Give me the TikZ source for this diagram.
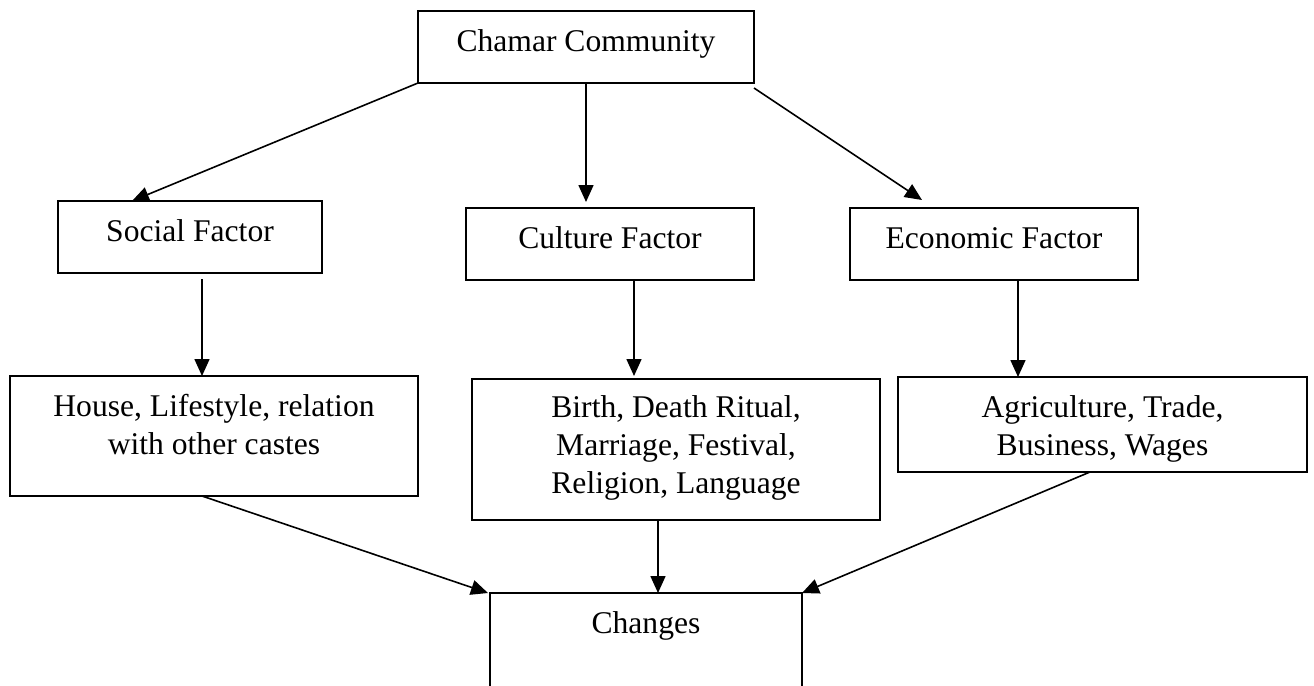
\documentclass[tikz,border=0pt]{standalone}
\usepackage{fontspec}
\setmainfont{Liberation Serif}
\usetikzlibrary{arrows.meta,calc}
\tikzset{
  boxst/.style={draw=black, line width=0.9pt, inner sep=0pt, outer sep=0pt, anchor=north west},
  txtst/.style={anchor=north, inner sep=0pt, align=center, font=\fontsize{15.8pt}{19pt}\selectfont},
  arr/.style={line width=0.8pt, -{Triangle[length=8.5pt,width=7.5pt]}}
}
\newcommand{\fs}{\rule{0pt}{20pt}}
\begin{document}
\begin{tikzpicture}[x=0.5pt,y=-0.5pt]
\useasboundingbox (0,0) rectangle (1314,686);
\clip (0,0) rectangle (1314,686);
% boxes
\node[boxst, minimum width=168pt, minimum height=36pt] (cc) at (418,11) {};
\node[boxst, minimum width=132pt, minimum height=36pt] (sf) at (58,201) {};
\node[boxst, minimum width=144pt, minimum height=36pt] (cf) at (466,208) {};
\node[boxst, minimum width=144pt, minimum height=36pt] (ef) at (850,208) {};
\node[boxst, minimum width=204pt, minimum height=60pt] (hl) at (10,376) {};
\node[boxst, minimum width=204pt, minimum height=70.5pt] (br) at (472,379) {};
\node[boxst, minimum width=204.5pt, minimum height=47.5pt] (ag) at (898,377) {};
\node[boxst, minimum width=156pt, minimum height=70pt] (ch) at (490,593) {};
% texts
\node[txtst] (cct) at (cc.north) {\fs Chamar Community};
\node[txtst] (sft) at (sf.north) {\fs Social Factor};
\node[txtst] (cft) at (cf.north) {\fs Culture Factor};
\node[txtst] (eft) at (ef.north) {\fs Economic Factor};
\node[txtst] (hlt) at (hl.north) {\fs House, Lifestyle, relation\\with other castes};
\node[txtst] (brt) at (br.north) {\rule{0pt}{19pt}Birth, Death Ritual,\\Marriage, Festival,\\Religion, Language};
\node[txtst] (agt) at (ag.north) {\fs Agriculture, Trade,\\Business, Wages};
\node[txtst] (cht) at (ch.north) {\fs Changes};
% connector end points
\coordinate (s1) at ($(sf.south)+(12,6)$);
\coordinate (c1) at ($(cf.south)+(24,0)$);
\coordinate (e1) at ($(ef.south)+(24,0)$);
\coordinate (b1) at ($(br.south)+(-18,0)$);
\coordinate (c2) at ($(cc.south |- cf.north)+(0,-6)$);
\coordinate (c3) at ($(c1 |- br.north)+(0,-3)$);
% connectors
\draw[arr] (cc.south west) -- ($(sf.north west)+(74,0)$);
\draw[arr] (cc.south) -- (c2);
\draw[arr] ($(cc.south east)+(0,5)$) -- ($(ef.north west)+(72,-8)$);
\draw[arr] (s1) -- (s1 |- hl.north);
\draw[arr] (c1) -- (c3);
\draw[arr] (e1) -- (e1 |- ag.north);
\draw[arr] ($(hl.south)+(-12,0)$) -- ($(ch.north west)+(-2,0)$);
\draw[arr] (b1) -- (b1 |- ch.north);
\draw[arr] ($(ag.south)+(-12.5,0)$) -- (ch.north east);
\end{tikzpicture}
\end{document}
